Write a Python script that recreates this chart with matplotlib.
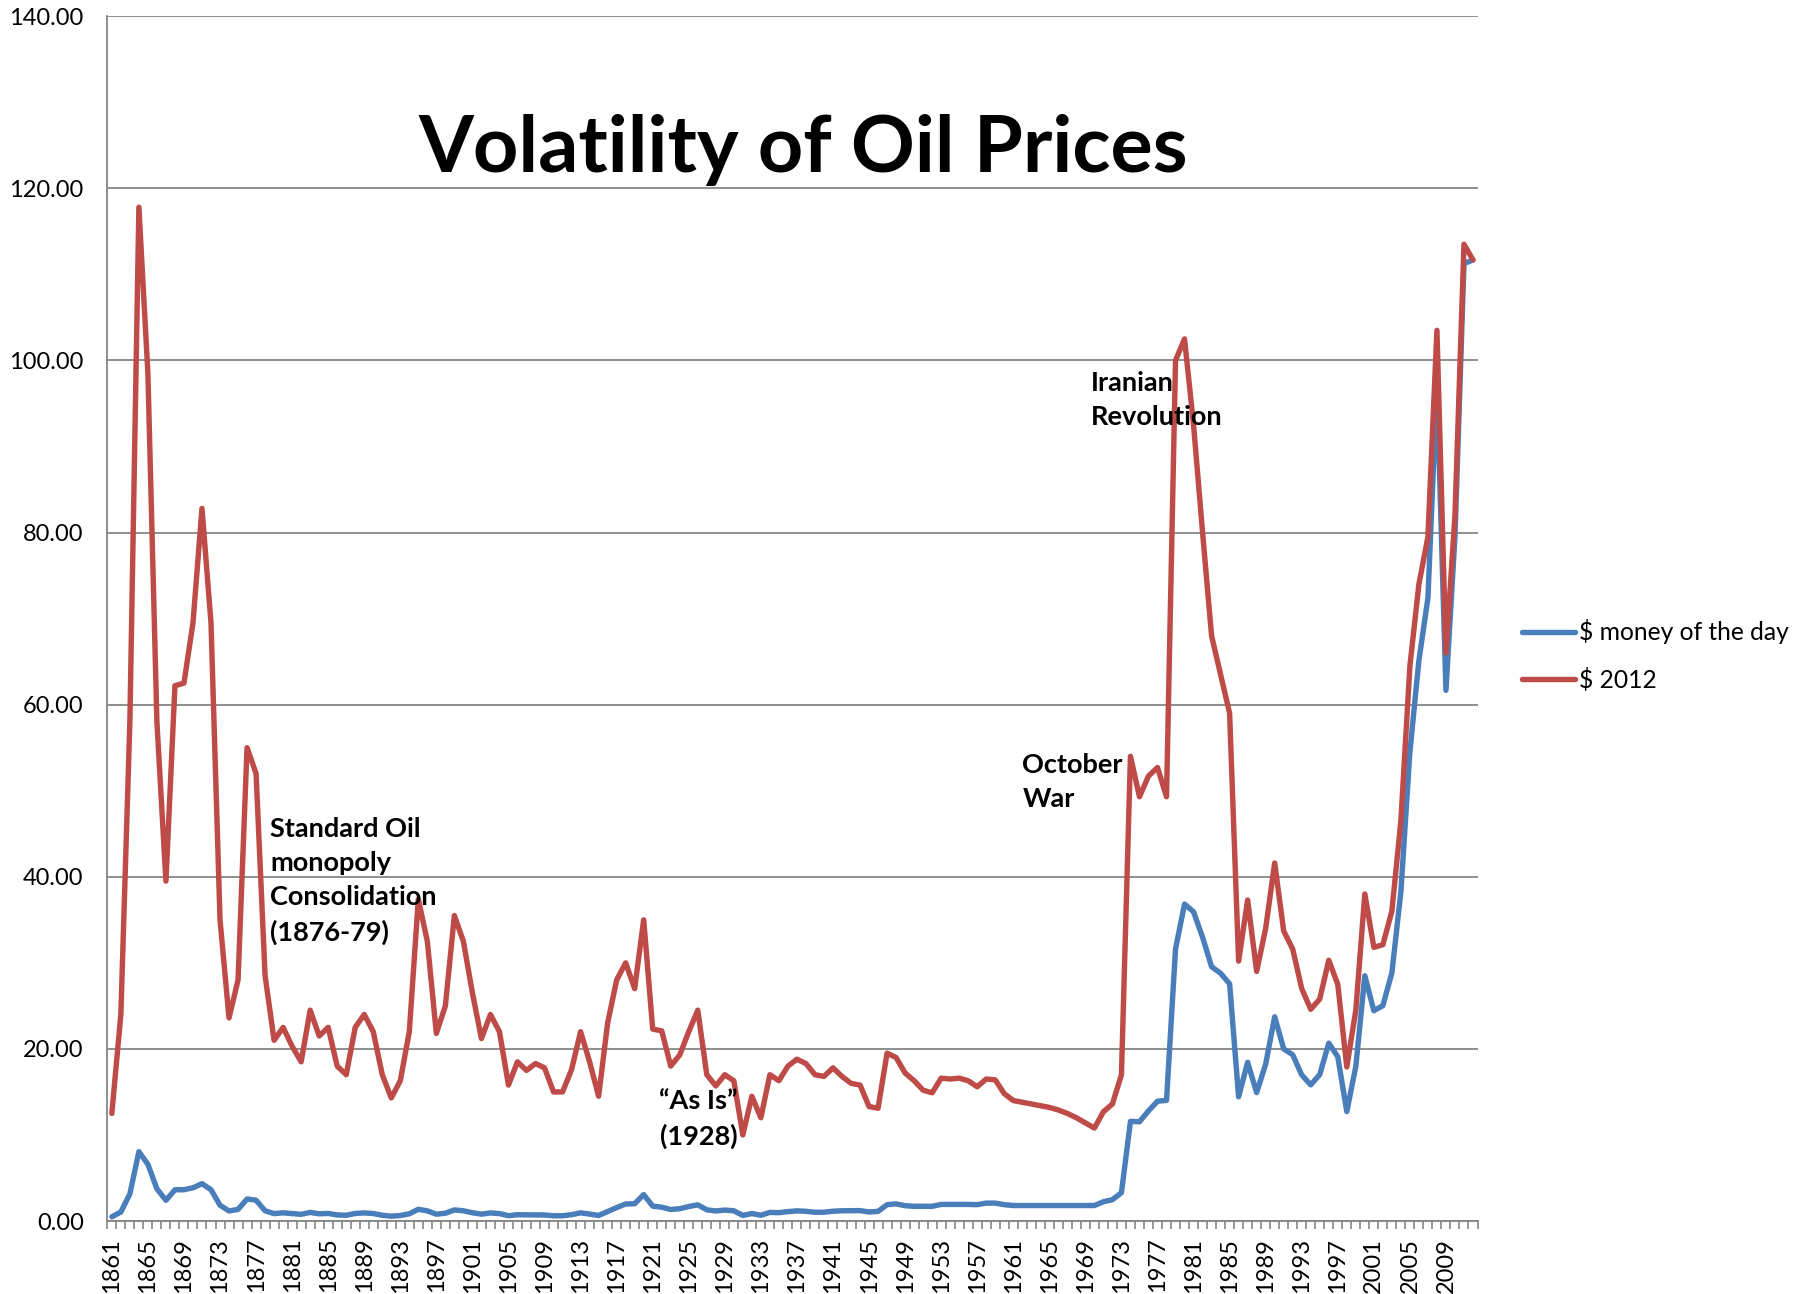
#!/usr/bin/env python3

import matplotlib
matplotlib.use('Agg')
import matplotlib.pyplot as plt
import numpy as np

plt.rcParams['font.family'] = ['Lato', 'DejaVu Sans']

years = list(range(1861, 2013))

money_of_day = [
    0.49, 1.05, 3.15, 8.06, 6.59, 3.74, 2.41, 3.63, 3.64, 3.86,
    4.34, 3.64, 1.83, 1.17, 1.35, 2.56, 2.42, 1.19, 0.86, 0.95,
    0.86, 0.78, 1.00, 0.84, 0.88, 0.71, 0.67, 0.88, 0.94, 0.87,
    0.67, 0.56, 0.64, 0.84, 1.36, 1.18, 0.79, 0.91, 1.29, 1.19,
    0.96, 0.80, 0.94, 0.86, 0.62, 0.73, 0.72, 0.72, 0.70, 0.61,
    0.61, 0.74, 0.95, 0.81, 0.64, 1.10, 1.56, 1.98, 2.01, 3.07,
    1.73, 1.61, 1.34, 1.43, 1.68, 1.88, 1.30, 1.17, 1.27, 1.19,
    0.65, 0.87, 0.67, 1.00, 0.97, 1.09, 1.18, 1.13, 1.02, 1.02,
    1.14, 1.19, 1.20, 1.21, 1.05, 1.12, 1.90, 1.99, 1.78, 1.71,
    1.71, 1.71, 1.93, 1.93, 1.93, 1.93, 1.90, 2.08, 2.08, 1.90,
    1.80, 1.80, 1.80, 1.80, 1.80, 1.80, 1.80, 1.80, 1.80, 1.80,
    2.24, 2.48, 3.29, 11.58, 11.53, 12.80, 13.92, 14.02, 31.61, 36.83,
    35.93, 32.97, 29.55, 28.78, 27.56, 14.43, 18.44, 14.92, 18.23, 23.73,
    20.00, 19.32, 16.97, 15.82, 17.02, 20.67, 19.09, 12.72, 17.97, 28.50,
    24.44, 25.02, 28.83, 38.27, 54.52, 65.14, 72.39, 97.26, 61.67, 79.50,
    111.26, 111.67,
]

dollars_2012 = [
    12.5, 24.0, 58.0, 117.8, 98.5, 58.0, 39.5, 62.2, 62.5, 69.5,
    82.8, 69.5, 35.0, 23.6, 28.0, 55.0, 52.0, 28.5, 21.0, 22.5,
    20.3, 18.5, 24.5, 21.5, 22.5, 18.0, 17.0, 22.5, 24.0, 22.0,
    17.0, 14.3, 16.3, 22.0, 37.4, 32.5, 21.8, 25.0, 35.5, 32.5,
    26.5, 21.2, 24.0, 22.0, 15.8, 18.5, 17.5, 18.3, 17.8, 15.0,
    15.0, 17.6, 22.0, 18.5, 14.5, 23.0, 28.0, 30.0, 27.0, 35.0,
    22.3, 22.1, 18.0, 19.3, 22.0, 24.5, 17.0, 15.7, 17.0, 16.3,
    10.0, 14.5, 12.0, 17.0, 16.3, 18.0, 18.8, 18.3, 17.0, 16.8,
    17.8, 16.8, 16.0, 15.8, 13.3, 13.1, 19.5, 19.0, 17.2, 16.3,
    15.2, 14.9, 16.6, 16.5, 16.6, 16.3, 15.6, 16.5, 16.4, 14.8,
    14.0, 13.8, 13.6, 13.4, 13.2, 12.9, 12.5, 12.0, 11.4, 10.8,
    12.7, 13.6, 17.0, 54.0, 49.3, 51.7, 52.7, 49.3, 100.0, 102.5,
    92.5, 80.0, 68.0, 63.5, 59.0, 30.2, 37.3, 29.0, 34.0, 41.6,
    33.7, 31.6, 27.0, 24.6, 25.8, 30.3, 27.5, 17.9, 24.5, 38.0,
    31.8, 32.1, 36.0, 46.5, 64.5, 74.0, 79.5, 103.5, 66.0, 82.0,
    113.5, 111.67,
]

labelled_years = list(range(1861, 2012, 4))

notes = [
    ('Standard Oil\nmonopoly\nConsolidation\n(1876-79)', 1878.6, 46.9, 'left'),
    ('\u201cAs Is\u201d\n(1928)', 1926.1, 15.3, 'center'),
    ('October\nWar', 1962.0, 54.4, 'left'),
    ('Iranian\nRevolution', 1969.6, 98.8, 'left'),
]

BLUE = '#4a7ebb'
RED = '#be4b48'
GRID = '#868686'


def main():
    fig = plt.figure(figsize=(18.10, 12.94), dpi=100)
    ax = fig.add_axes([0.0593, 0.0564, 0.7570, 0.9311])

    ax.plot(years, money_of_day, color=BLUE, lw=3.9,
            solid_joinstyle='round', solid_capstyle='round',
            label='$ money of the day')
    ax.plot(years, dollars_2012, color=RED, lw=3.9,
            solid_joinstyle='round', solid_capstyle='round',
            label='$ 2012')

    ax.set_xlim(1860.5, 2012.5)
    ax.set_ylim(0, 140)
    ax.set_yticks(np.arange(0, 141, 20))
    ax.set_yticklabels(['%.2f' % v for v in np.arange(0, 141, 20)], fontsize=17)
    ax.yaxis.grid(True, color=GRID, lw=1.3)
    ax.set_axisbelow(True)
    ax.tick_params(axis='y', length=0, pad=17)

    ax.set_xticks(labelled_years)
    ax.set_xticklabels([str(y) for y in labelled_years], rotation=90, fontsize=17)
    ax.set_xticks(np.arange(1860.5, 2013, 1), minor=True)
    ax.tick_params(axis='x', which='major', length=0, pad=12)
    ax.tick_params(axis='x', which='minor', length=6, width=1.2, color=GRID)

    for side in ('top', 'right'):
        ax.spines[side].set_visible(False)
    for side in ('left', 'bottom'):
        ax.spines[side].set_color(GRID)
        ax.spines[side].set_linewidth(1.3)

    ax.text(0.508, 0.889, 'Volatility of Oil Prices', transform=ax.transAxes,
            ha='center', va='center', fontsize=57, fontweight='bold')

    for text, x, y, ha in notes:
        ax.text(x, y, text, ha=ha, va='top', fontsize=19.5, fontweight='bold',
                multialignment=ha, linespacing=1.5)

    ax.legend(loc='center left', bbox_to_anchor=(0.841, 0.4933),
              bbox_transform=fig.transFigure, frameon=False, fontsize=17.7,
              borderpad=0, borderaxespad=0,
              handlelength=2.15, handletextpad=0.15, labelspacing=0.95)

    fig.savefig('out.png', dpi=100)
    plt.close(fig)


if __name__ == '__main__':
    main()
